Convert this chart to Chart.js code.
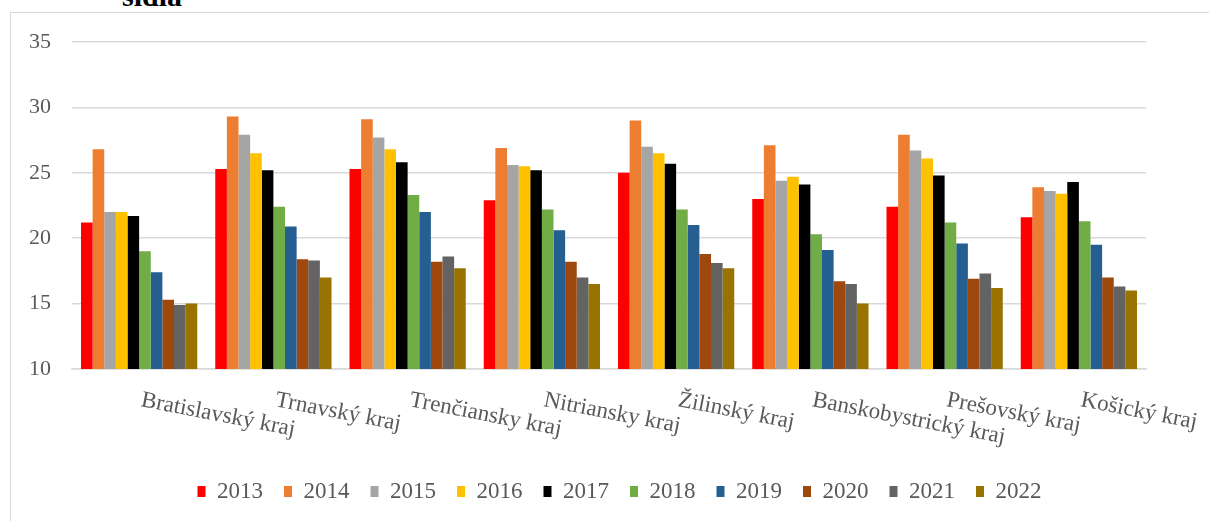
<!DOCTYPE html>
<html>
<head>
<meta charset="utf-8">
<script src="https://cdn.jsdelivr.net/npm/chart.js@4.4.1/dist/chart.umd.min.js"></script>
<style>
  html, body { margin: 0; padding: 0; background: #fff; overflow: hidden; }
  #wrap { position: relative; width: 1209px; height: 521px; overflow: hidden; }
  #frame { position: absolute; left: 10px; top: 12px; width: 1300px; height: 600px; border: 1px solid #d9d9d9; box-sizing: border-box; }
  #title { position: absolute; left: 122px; top: -19px; font: bold 30px "Liberation Serif", "Times New Roman", serif; color: #000; line-height: 30px; white-space: nowrap; }
  #c { position: absolute; left: 0; top: 0; }
</style>
</head>
<body>
<div id="wrap">
  <div id="frame"></div>
  <div id="title">sídla</div>
  <canvas id="c" width="1209" height="521"></canvas>
</div>
<script>
const categories = ["Bratislavský kraj", "Trnavský kraj", "Trenčiansky kraj", "Nitriansky kraj", "Žilinský kraj", "Banskobystrický kraj", "Prešovský kraj", "Košický kraj"];
const years = ["2013", "2014", "2015", "2016", "2017", "2018", "2019", "2020", "2021", "2022"];
const v2013 = [21.2, 25.3, 25.3, 22.9, 25.0, 23.0, 22.4, 21.6];
const v2014 = [26.8, 29.3, 29.1, 26.9, 29.0, 27.1, 27.9, 23.9];
const v2015 = [22.0, 27.9, 27.7, 25.6, 27.0, 24.4, 26.7, 23.6];
const v2016 = [22.0, 26.5, 26.8, 25.5, 26.5, 24.7, 26.1, 23.4];
const v2017 = [21.7, 25.2, 25.8, 25.2, 25.7, 24.1, 24.8, 24.3];
const v2018 = [19.0, 22.4, 23.3, 22.2, 22.2, 20.3, 21.2, 21.3];
const v2019 = [17.4, 20.9, 22.0, 20.6, 21.0, 19.1, 19.6, 19.5];
const v2020 = [15.3, 18.4, 18.2, 18.2, 18.8, 16.7, 16.9, 17.0];
const v2021 = [14.9, 18.3, 18.6, 17.0, 18.1, 16.5, 17.3, 16.3];
const v2022 = [15.0, 17.0, 17.7, 16.5, 17.7, 15.0, 16.2, 16.0];
const yTicks = [10, 15, 20, 25, 30, 35];
const colors = ["#FF0000", "#ED7D31", "#A5A5A5", "#FFC000", "#000000", "#70AD47", "#255E91", "#9E480E", "#636363", "#997300"];

const seriesValues = [v2013, v2014, v2015, v2016, v2017, v2018, v2019, v2020, v2021, v2022];
const datasets = years.map((y, i) => ({
  label: y,
  data: seriesValues[i],
  backgroundColor: colors[i],
  borderWidth: 0,
  categoryPercentage: 0.866,
  barPercentage: 1.0,
  yAxisID: 'y'
}));

const FONT = '"Liberation Serif", "Times New Roman", serif';
const TEXT = '#595959';

const rotatedLabels = {
  id: 'rotatedLabels',
  afterDraw(chart) {
    const ctx = chart.ctx;
    const xs = chart.scales.x;
    const yb = chart.chartArea.bottom;
    ctx.save();
    ctx.font = '23px ' + FONT;
    ctx.fillStyle = TEXT;
    ctx.textAlign = 'left';
    ctx.textBaseline = 'alphabetic';
    categories.forEach((lab, i) => {
      const x = xs.getPixelForTick(i);
      ctx.save();
      ctx.translate(x + 1, yb + 37);
      ctx.rotate(11 * Math.PI / 180);
      ctx.fillText(lab, 0, 0);
      ctx.restore();
    });
    ctx.restore();
  }
};

new Chart(document.getElementById('c'), {
  type: 'bar',
  data: { labels: categories, datasets },
  options: {
    responsive: false,
    animation: false,
    devicePixelRatio: 1,
    layout: { padding: { left: 30, right: 0, top: 42, bottom: 8 } },
    plugins: {
      legend: {
        position: 'bottom',
        labels: {
          boxWidth: 8,
          boxHeight: 11,
          padding: 21,
          color: TEXT,
          font: { family: FONT, size: 23 }
        }
      },
      tooltip: { enabled: false },
      title: { display: false }
    },
    scales: {
      x: {
        grid: { display: false, drawTicks: false },
        border: { display: true, color: '#d9d9d9', width: 1.5 },
        ticks: { display: false },
        afterFit(scale) { scale.height = 90; }
      },
      y: {
        min: 10,
        max: 35,
        afterBuildTicks(scale) { scale.ticks = yTicks.map(v => ({ value: v })); },
        grid: { color: '#d9d9d9', lineWidth: 1.5, drawTicks: false },
        border: { display: false },
        ticks: {
          padding: 21,
          color: TEXT,
          font: { family: FONT, size: 22 }
        },
        afterFit(scale) { scale.width = 42; }
      },
      yRight: {
        position: 'right',
        display: true,
        min: 10,
        max: 35,
        grid: { display: false, drawTicks: false },
        border: { display: false },
        ticks: { display: false },
        afterFit(scale) { scale.width = 63; }
      }
    }
  },
  plugins: [rotatedLabels]
});
</script>
</body>
</html>
